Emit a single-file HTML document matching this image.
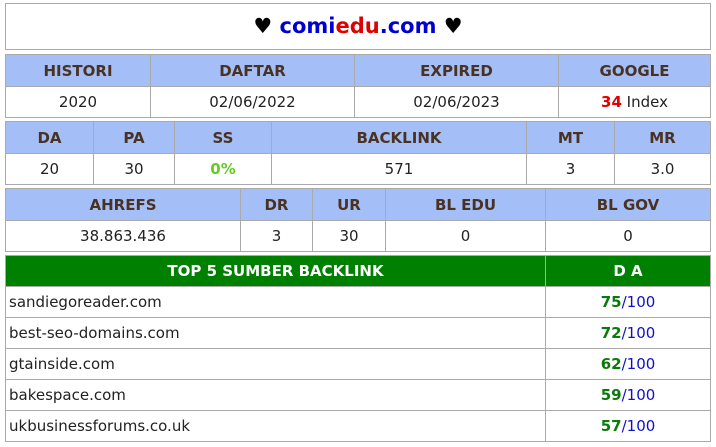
<!DOCTYPE html>
<html><head><meta charset="utf-8"><style>
body{margin:0;width:716px;height:447px;background:#fff;font-family:"DejaVu Sans","Liberation Sans",sans-serif;overflow:hidden}
.box{position:absolute;left:5px;width:705px}
table{border-collapse:collapse;table-layout:fixed;width:706px;position:absolute;left:5px}
td{border:1px solid #aaa;text-align:center;font-size:15px;color:#222;padding:0;height:30px}
tr.h td{background:#a4bef8;color:#4a3222;font-weight:bold;height:31px}
tr.g td{background:#008000;color:#fff;font-weight:bold;height:30px}
td.l{text-align:left;padding-left:3px}
.gn{color:#0a7a0a;font-weight:bold}.bl{color:#1010c8}
</style></head><body>
<div style="position:absolute;left:5px;top:3px;width:704px;height:45px;border:1px solid #aaa;text-align:center;line-height:45px;font-size:21px;font-weight:bold">♥ <span style="color:#0000d0">comi</span><span style="color:#e00000">edu</span><span style="color:#0000d0">.com</span> ♥</div>
<table style="top:54px">
<colgroup><col style="width:145px"><col style="width:204px"><col style="width:204px"><col style="width:152px"></colgroup>
<tr class="h"><td>HISTORI</td><td>DAFTAR</td><td>EXPIRED</td><td>GOOGLE</td></tr>
<tr><td>2020</td><td>02/06/2022</td><td>02/06/2023</td><td><b style="color:#e00000">34</b> Index</td></tr>
</table>
<table style="top:121px">
<colgroup><col style="width:88px"><col style="width:81px"><col style="width:97px"><col style="width:255px"><col style="width:88px"><col style="width:96px"></colgroup>
<tr class="h"><td>DA</td><td>PA</td><td>SS</td><td>BACKLINK</td><td>MT</td><td>MR</td></tr>
<tr><td>20</td><td>30</td><td><b style="color:#66cc22">0%</b></td><td>571</td><td>3</td><td>3.0</td></tr>
</table>
<table style="top:188px">
<colgroup><col style="width:235px"><col style="width:72px"><col style="width:73px"><col style="width:160px"><col style="width:165px"></colgroup>
<tr class="h"><td>AHREFS</td><td>DR</td><td>UR</td><td>BL EDU</td><td>BL GOV</td></tr>
<tr><td>38.863.436</td><td>3</td><td>30</td><td>0</td><td>0</td></tr>
</table>
<table style="top:255px">
<colgroup><col style="width:540px"><col style="width:165px"></colgroup>
<tr class="g"><td>TOP 5 SUMBER BACKLINK</td><td>D A</td></tr>
<tr><td class="l">sandiegoreader.com</td><td><span class="gn">75</span><span class="bl">/100</span></td></tr>
<tr><td class="l">best-seo-domains.com</td><td><span class="gn">72</span><span class="bl">/100</span></td></tr>
<tr><td class="l">gtainside.com</td><td><span class="gn">62</span><span class="bl">/100</span></td></tr>
<tr><td class="l">bakespace.com</td><td><span class="gn">59</span><span class="bl">/100</span></td></tr>
<tr><td class="l">ukbusinessforums.co.uk</td><td><span class="gn">57</span><span class="bl">/100</span></td></tr>
</table>
</body></html>
